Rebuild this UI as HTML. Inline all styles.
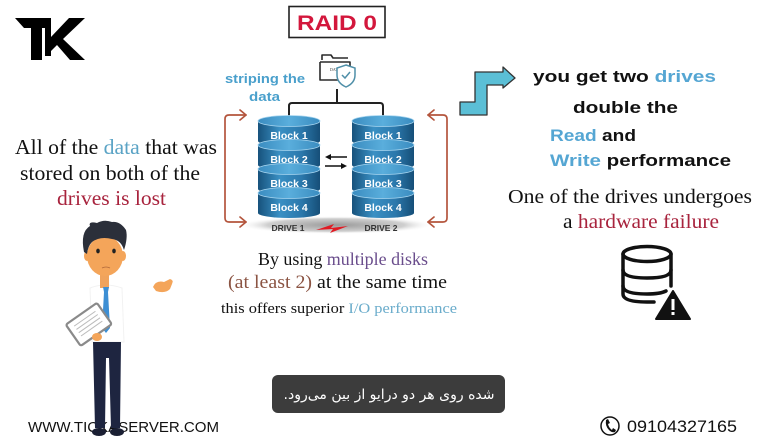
<!DOCTYPE html>
<html>
<head>
<meta charset="utf-8">
<style>
html,body{margin:0;padding:0;background:#fff;}
body{width:778px;height:438px;overflow:hidden;position:relative;}
svg{position:absolute;left:0;top:0;}
.sans{font-family:"Liberation Sans",sans-serif;}
.serif{font-family:"Liberation Serif",serif;}
</style>
</head>
<body>
<svg width="778" height="438" viewBox="0 0 778 438" xmlns="http://www.w3.org/2000/svg">
<defs>
  <linearGradient id="body" x1="0" x2="1" y1="0" y2="0">
    <stop offset="0" stop-color="#17527c"/>
    <stop offset="0.35" stop-color="#3a90c4"/>
    <stop offset="0.7" stop-color="#2b78ac"/>
    <stop offset="1" stop-color="#164f78"/>
  </linearGradient>
  <linearGradient id="topg" x1="0" x2="1" y1="0" y2="0">
    <stop offset="0" stop-color="#3a8cc0"/>
    <stop offset="0.5" stop-color="#5aaedc"/>
    <stop offset="1" stop-color="#3a8cc0"/>
  </linearGradient>
  <radialGradient id="shadow" cx="0.5" cy="0.5" r="0.5">
    <stop offset="0" stop-color="#9a9a9a"/>
    <stop offset="0.7" stop-color="#cfcfcf"/>
    <stop offset="1" stop-color="#ffffff" stop-opacity="0"/>
  </radialGradient>
  <g id="slice">
    <rect x="0" y="0" width="62" height="20" fill="url(#body)"/>
    <ellipse cx="31" cy="20" rx="31" ry="5" fill="url(#body)"/>
    <ellipse cx="31" cy="0" rx="31" ry="5.5" fill="url(#topg)" stroke="#a8d6f0" stroke-width="0.8"/>
  </g>
  <g id="drive">
    <use href="#slice" transform="translate(0,121)"/>
    <use href="#slice" transform="translate(0,145)"/>
    <use href="#slice" transform="translate(0,169)"/>
    <use href="#slice" transform="translate(0,193)"/>
  </g>
</defs>

<!-- TK logo -->
<g fill="#000">
  <polygon points="15,18 50,18 50,28 42,28 42,60 31,60 31,28 24,28"/>
  <polygon points="45,18 51,18 51,37 69,18 85,18 63,39 85,60 70,60 57,45 51,51 51,56 45,56"/>
</g>

<!-- RAID 0 -->
<rect x="289" y="6.5" width="96" height="31" fill="#fff" stroke="#222" stroke-width="1.6"/>
<text x="337" y="30" text-anchor="middle" class="sans" font-weight="bold" font-size="21" fill="#d3173c" textLength="80" lengthAdjust="spacingAndGlyphs">RAID 0</text>

<!-- folder icon -->
<g fill="none" stroke="#2a2a2a" stroke-width="1.6" stroke-linejoin="round">
  <path d="M322,60 L322,55 L331,55 L333,58 L348,58"/>
  <path d="M320,62 L350,62 L350,66 M320,62 L320,80 L339,80"/>
</g>
<text x="330" y="71" font-size="4" class="serif" fill="#333">DATA</text>
<path d="M346,65 L355,68 L355,75 Q355,83 346,87 Q337,83 337,75 L337,68 Z" fill="#fff" stroke="#4f8fa8" stroke-width="1.5"/>
<path d="M342,75 L345,78 L350,72" fill="none" stroke="#4f8fa8" stroke-width="1.5"/>

<!-- connector lines -->
<path d="M337,89 L337,103 M289,121 L289,106 Q289,103 292,103 L380,103 Q383,103 383,106 L383,121" fill="none" stroke="#222" stroke-width="2"/>

<!-- striping the data -->
<text x="225" y="83" class="sans" font-weight="bold" font-size="13" fill="#4aa0cc" textLength="80" lengthAdjust="spacingAndGlyphs">striping the</text>
<text x="249" y="101" class="sans" font-weight="bold" font-size="13" fill="#4aa0cc" textLength="31" lengthAdjust="spacingAndGlyphs">data</text>

<!-- shadow under drives -->
<ellipse cx="336" cy="225" rx="98" ry="9" fill="url(#shadow)"/>

<!-- drives -->
<use href="#drive" transform="translate(258,0)"/>
<use href="#drive" transform="translate(352,0)"/>
<g class="sans" font-weight="bold" font-size="10.5" fill="#ffffff" text-anchor="middle">
  <text x="289" y="139">Block 1</text>
  <text x="289" y="163">Block 2</text>
  <text x="289" y="187">Block 3</text>
  <text x="289" y="211">Block 4</text>
  <text x="383" y="139">Block 1</text>
  <text x="383" y="163">Block 2</text>
  <text x="383" y="187">Block 3</text>
  <text x="383" y="211">Block 4</text>
</g>

<!-- arrows between drives -->
<g stroke="#111" stroke-width="1.6" fill="#111">
  <line x1="330" y1="157" x2="347" y2="157"/>
  <polygon points="325,157 331,154 331,160" stroke="none"/>
  <line x1="325" y1="166" x2="342" y2="166"/>
  <polygon points="347,166 341,163 341,169" stroke="none"/>
</g>

<!-- drive labels -->
<text x="288" y="231" text-anchor="middle" class="sans" font-weight="bold" font-size="8.5" fill="#333">DRIVE 1</text>
<text x="381" y="231" text-anchor="middle" class="sans" font-weight="bold" font-size="8.5" fill="#333">DRIVE 2</text>
<polygon points="316,230 334,224 331,228 348,226 330,233 333,229" fill="#e01b24"/>

<!-- red brackets -->
<g fill="none" stroke="#b4553d" stroke-width="1.7" stroke-linecap="round" stroke-linejoin="round">
  <path d="M246,115 L229,115 Q225,115 225,119 L225,218 Q225,222 229,222 L246,222"/>
  <path d="M240,110 L246,115 L240,120"/>
  <path d="M240,217 L246,222 L240,227"/>
  <path d="M428,115 L443,115 Q447,115 447,119 L447,218 Q447,222 443,222 L428,222"/>
  <path d="M434,110 L428,115 L434,120"/>
  <path d="M434,217 L428,222 L434,227"/>
</g>

<!-- step arrow -->
<polygon points="460,102 475,102 475,72 503,72 503,67 515,78 503,88 503,85 487,85 487,115 460,115" fill="#5bbfd6" stroke="#333" stroke-width="1.3" stroke-linejoin="round"/>

<!-- right text -->
<g class="sans" font-weight="bold" font-size="17">
  <text x="533" y="82" textLength="183" lengthAdjust="spacingAndGlyphs"><tspan fill="#111">you get two </tspan><tspan fill="#55a6d3">drives</tspan></text>
  <text x="573" y="113" fill="#111" textLength="105" lengthAdjust="spacingAndGlyphs">double the</text>
  <text x="550" y="141" textLength="86" lengthAdjust="spacingAndGlyphs"><tspan fill="#55a6d3">Read</tspan><tspan fill="#111"> and</tspan></text>
  <text x="550" y="166" textLength="181" lengthAdjust="spacingAndGlyphs"><tspan fill="#55a6d3">Write</tspan><tspan fill="#111"> performance</tspan></text>
</g>
<g class="serif" font-size="20">
  <text x="508" y="203" fill="#111" textLength="244" lengthAdjust="spacingAndGlyphs">One of the drives undergoes</text>
  <text x="563" y="228" textLength="156" lengthAdjust="spacingAndGlyphs"><tspan fill="#111">a </tspan><tspan fill="#a8233d">hardware failure</tspan></text>
</g>

<!-- left text -->
<g class="serif" font-size="21">
  <text x="15" y="154" textLength="202" lengthAdjust="spacingAndGlyphs"><tspan fill="#111">All of the </tspan><tspan fill="#5aa3c5">data</tspan><tspan fill="#111"> that was</tspan></text>
  <text x="20" y="180" fill="#111" textLength="180" lengthAdjust="spacingAndGlyphs">stored on both of the</text>
  <text x="57" y="205" fill="#a8233d" textLength="109" lengthAdjust="spacingAndGlyphs">drives is lost</text>
</g>

<!-- center bottom text -->
<g class="serif">
  <text x="258" y="265" font-size="18" textLength="170" lengthAdjust="spacingAndGlyphs"><tspan fill="#111">By using </tspan><tspan fill="#6a4d8c">multiple disks</tspan></text>
  <text x="228" y="288" font-size="19" textLength="219" lengthAdjust="spacingAndGlyphs"><tspan fill="#8b5443">(at least 2)</tspan><tspan fill="#111"> at the same time</tspan></text>
  <text x="221" y="313" font-size="15" textLength="236" lengthAdjust="spacingAndGlyphs"><tspan fill="#111">this offers superior </tspan><tspan fill="#6aaccb">I/O performance</tspan></text>
</g>

<!-- database warning icon -->
<g fill="none" stroke="#111" stroke-width="3.5" stroke-linecap="round">
  <ellipse cx="647" cy="254" rx="24" ry="7.5"/>
  <path d="M623,254 L623,294 Q623,302 647,302 L654,302"/>
  <path d="M671,254 L671,286"/>
  <path d="M623,270 Q623,278 647,278 Q671,278 671,270"/>
  <path d="M623,286 Q623,294 647,294 Q660,294 666,291"/>
</g>
<polygon points="673,291 690,319 656,319" fill="#111" stroke="#111" stroke-width="2" stroke-linejoin="round"/>
<rect x="671.5" y="299" width="3" height="11" fill="#fff"/>
<rect x="671.5" y="312" width="3" height="3" fill="#fff"/>

<!-- man -->
<g>
  <path d="M90,288 Q105,282 122,288 L124,342 L92,342 Z" fill="#fff" stroke="#f2f2f2" stroke-width="1"/>
  <rect x="100" y="268" width="9" height="20" fill="#f0a35c"/>
  <polygon points="103,287 109,287 108,292 110,328 106,333 102,328 104,292" fill="#3d8fd4"/>
  <ellipse cx="105" cy="256" rx="18" ry="20" fill="#f4a55a"/>
  <ellipse cx="87" cy="256" rx="3" ry="5" fill="#f4a55a"/>
  <ellipse cx="123" cy="256" rx="3" ry="5" fill="#f4a55a"/>
  <path d="M84,252 Q80,232 90,226 Q88,221 97,223 Q104,219 112,222 Q120,221 126,230 Q128,238 124,250 Q121,240 112,239 Q100,236 92,242 Q88,246 87,254 Z" fill="#2b2f3a"/>
  <ellipse cx="98" cy="251" rx="1.8" ry="2.4" fill="#222"/>
  <ellipse cx="114" cy="251" rx="1.8" ry="2.4" fill="#222"/>
  <path d="M102,268 Q106,266 110,268" stroke="#b0683a" stroke-width="0.8" fill="none"/>
  <path d="M153,287 Q156,280 164,282 L170,279 Q174,280 172,284 L170,289 Q165,294 156,291 Z" fill="#f4a55a"/>
  <g transform="rotate(-35 88 325)">
    <rect x="70" y="312" width="38" height="26" rx="2" fill="#fff" stroke="#8a8a8a" stroke-width="2.2"/>
    <line x1="76" y1="318" x2="102" y2="318" stroke="#bbb" stroke-width="1"/>
    <line x1="76" y1="322" x2="102" y2="322" stroke="#bbb" stroke-width="1"/>
    <line x1="76" y1="326" x2="102" y2="326" stroke="#bbb" stroke-width="1"/>
    <line x1="76" y1="330" x2="102" y2="330" stroke="#bbb" stroke-width="1"/>
  </g>
  <ellipse cx="97" cy="337" rx="5" ry="4" fill="#f4a55a"/>
</g>

<!-- subtitle -->
<rect x="272" y="375" width="233" height="38" rx="6" fill="#3c3c3c"/>
<text x="389" y="399" text-anchor="middle" font-family="'DejaVu Sans',sans-serif" font-size="14" fill="#ffffff" direction="rtl">شده روی هر دو درایو از بین می‌رود.</text>

<!-- footer -->
<text x="28" y="432" class="sans" font-size="15" fill="#111" textLength="191" lengthAdjust="spacingAndGlyphs">WWW.TICKASERVER.COM</text>

<!-- legs over text -->
<path d="M93,342 L121,342 L120,428 L111,428 L109,358 L106,358 L105,428 L95,428 Z" fill="#1e2540"/>
<ellipse cx="99" cy="432" rx="7" ry="4" fill="#1a1f33"/>
<ellipse cx="117" cy="432" rx="7" ry="4" fill="#1a1f33"/>

<!-- phone -->
<circle cx="610" cy="426" r="9" fill="none" stroke="#111" stroke-width="1.5"/>
<path d="M606,420 L608,419 L610,423 L608,424 Q609,428 612,430 L613,428 L616,430 L615,432 Q612,433 609,430 Q605,426 606,420 Z" fill="#111"/>
<text x="627" y="432" class="sans" font-size="17" fill="#111" textLength="110" lengthAdjust="spacingAndGlyphs">09104327165</text>
</svg>
</body>
</html>
